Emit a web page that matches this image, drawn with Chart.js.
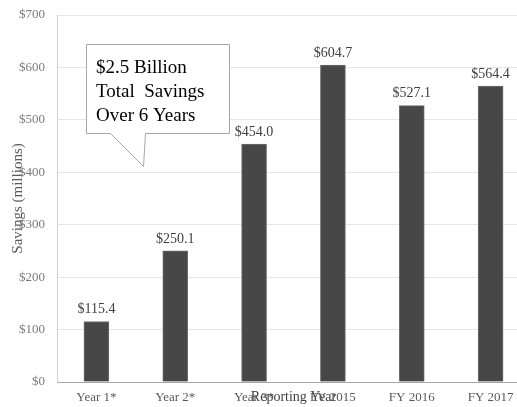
<!DOCTYPE html>
<html>
<head>
<meta charset="utf-8">
<script src="https://cdn.jsdelivr.net/npm/chart.js@4"></script>
<style>
  html, body { margin: 0; padding: 0; background: #fff; overflow: hidden; }
  #wrap { width: 530px; height: 407px; }
</style>
</head>
<body>
<div id="wrap"><canvas id="savings"></canvas></div>
<script>
// --- DATA ---
const years = ["Year 1*", "Year 2*", "Year 3*", "FY 2015", "FY 2016", "FY 2017"];
const savings = [115.4, 250.1, 454.0, 604.7, 527.1, 564.4]; // $ millions
const yTicks = [0, 100, 200, 300, 400, 500, 600, 700];
const calloutLines = ["$2.5 Billion", "Total  Savings", "Over 6 Years"];

const SERIF = "'Liberation Serif', 'DejaVu Serif', serif";

// value labels above each bar
const barLabels = {
  id: "barLabels",
  afterDatasetsDraw(chart) {
    const ctx = chart.ctx;
    const meta = chart.getDatasetMeta(0);
    ctx.save();
    ctx.font = "14px " + SERIF;
    ctx.fillStyle = "#404040";
    ctx.textAlign = "center";
    ctx.textBaseline = "bottom";
    meta.data.forEach((bar, i) => {
      ctx.fillText("$" + savings[i].toFixed(1), bar.x, bar.y - 5);
    });
    ctx.restore();
  },
};

// speech bubble with the total
const callout = {
  id: "callout",
  afterDraw(chart) {
    const ctx = chart.ctx;
    const box = { l: 86, t: 44, r: 229, b: 133 };
    const tail = { a: 110, b: 145, tipX: 143, tipY: 166 };
    ctx.save();
    ctx.beginPath();
    ctx.moveTo(box.l + 0.5, box.t + 0.5);
    ctx.lineTo(box.r + 0.5, box.t + 0.5);
    ctx.lineTo(box.r + 0.5, box.b + 0.5);
    ctx.lineTo(tail.b + 0.5, box.b + 0.5);
    ctx.lineTo(tail.tipX + 0.5, tail.tipY + 0.5);
    ctx.lineTo(tail.a + 0.5, box.b + 0.5);
    ctx.lineTo(box.l + 0.5, box.b + 0.5);
    ctx.closePath();
    ctx.fillStyle = "#ffffff";
    ctx.fill();
    ctx.strokeStyle = "#a6a6a6";
    ctx.lineWidth = 1;
    ctx.stroke();
    ctx.font = "19px " + SERIF;
    ctx.fillStyle = "#000000";
    ctx.textAlign = "left";
    ctx.textBaseline = "alphabetic";
    calloutLines.forEach((line, i) => {
      ctx.fillText(line, 96, 73 + i * 24);
    });
    ctx.restore();
  },
};

new Chart(document.getElementById("savings"), {
  type: "bar",
  data: {
    labels: years,
    datasets: [{
      data: savings,
      backgroundColor: "#474747",
      borderColor: "#6e6e6e",
      borderWidth: 1,
      barThickness: 25,
    }],
  },
  options: {
    responsive: true,
    maintainAspectRatio: false,
    animation: false,
    layout: { padding: { top: 15, right: 0, bottom: 0, left: 0 } },
    plugins: { legend: { display: false }, tooltip: { enabled: false } },
    scales: {
      x: {
        grid: { display: false, drawTicks: false },
        border: { color: "#a6a6a6", width: 1 },
        ticks: { font: { family: SERIF, size: 13 }, color: "#595959", padding: 8, maxRotation: 0 },
        title: {
          display: true, text: "Reporting Year",
          font: { family: SERIF, size: 14 }, color: "#404040",
          padding: { top: 0, bottom: 1 },
        },
        afterFit: (s) => { s.height = 25; },
      },
      y: {
        min: 0, max: 700,
        afterBuildTicks: (s) => { s.ticks = yTicks.map((v) => ({ value: v })); },
        grid: { color: "#e6e6e6", drawTicks: false },
        border: { color: "#d0d0d0", width: 1 },
        ticks: {
          font: { family: SERIF, size: 13 }, color: "#7a7a7a", padding: 12,
          callback: (v) => "$" + v,
        },
        title: {
          display: true, text: "Savings (millions)",
          font: { family: SERIF, size: 15 }, color: "#595959",
          padding: { top: 9, bottom: 0 },
        },
        afterFit: (s) => { s.width = 57; s.paddingTop = 0; s.paddingBottom = 0; },
      },
    },
  },
  plugins: [barLabels, callout],
});
</script>
</body>
</html>
